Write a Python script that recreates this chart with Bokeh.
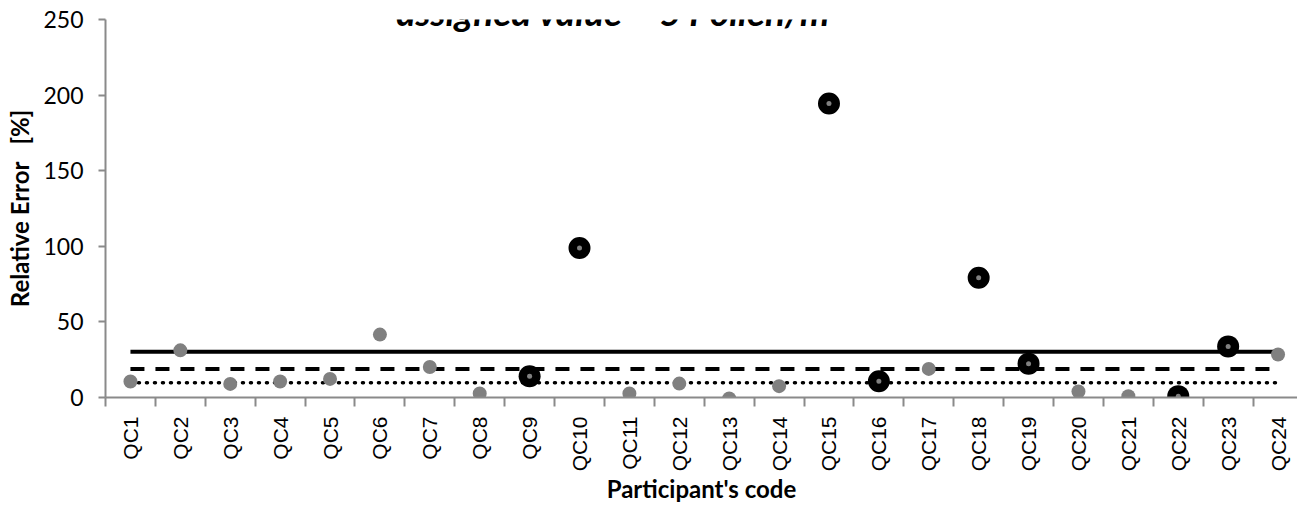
import math
from bokeh.plotting import figure
from bokeh.models import Range1d, FixedTicker, Label
from bokeh.embed import file_html
from bokeh.resources import INLINE

# ---- data ----
codes = ["QC%d" % i for i in range(1, 25)]
rel_error = [10.6, 31.2, 9.0, 10.6, 12.3, 41.6, 20.2, 2.6, 14.0, 98.9,
             2.6, 9.2, -0.7, 7.5, 194.4, 10.8, 18.9, 79.2, 22.4, 4.0,
             0.9, 0.9, 33.8, 28.4]
flagged = ["QC9", "QC10", "QC15", "QC16", "QC18", "QC19", "QC22", "QC23"]
limit_solid = 30.3
limit_dashed = 18.9
limit_dotted = 9.7
y_ticks = [0, 50, 100, 150, 200, 250]
title_text = "assigned value = 5 Pollen/m\u00b3"

xs = list(range(1, len(codes) + 1))
gx = [x for x, c in zip(xs, codes) if c not in flagged]
gy = [v for v, c in zip(rel_error, codes) if c not in flagged]
bx = [x for x, c in zip(xs, codes) if c in flagged]
by = [v for v, c in zip(rel_error, codes) if c in flagged]

GRAY = "#808080"
AXIS = "#8a8a8a"

p = figure(width=1297, height=506, output_backend="svg", toolbar_location=None,
           x_range=Range1d(0.5, 24.39), y_range=Range1d(0, 250),
           min_border_left=105, min_border_right=0, min_border_top=19,
           min_border_bottom=108, background_fill_color="white",
           border_fill_color="white")
p.xgrid.visible = False
p.ygrid.visible = False
p.outline_line_color = None

# threshold lines
p.line([xs[0], xs[-1]], [limit_solid, limit_solid], line_color="black", line_width=4)
p.line([xs[0], xs[-1]], [limit_dashed, limit_dashed], line_color="black", line_width=4,
       line_dash="14 11")
p.line([xs[0], xs[-1]], [limit_dotted, limit_dotted], line_color="black", line_width=3.5,
       line_dash="1 7", line_cap="round")

# points
p.scatter(gx, gy, size=14, fill_color=GRAY, line_color=None)
p.scatter(bx, by, size=22, fill_color="black", line_color=None)
p.scatter(bx, by, size=5, fill_color=GRAY, line_color=None)

# x axis
xa = p.xaxis[0]
xa.ticker = FixedTicker(ticks=xs, minor_ticks=[x - 0.5 for x in xs] + [xs[-1] + 0.5])
xa.major_label_overrides = {x: c for x, c in zip(xs, codes)}
xa.major_tick_out = 0
xa.major_tick_in = 0
xa.minor_tick_out = 9
xa.minor_tick_in = 0
xa.minor_tick_line_color = AXIS
xa.minor_tick_line_width = 2
xa.axis_line_color = AXIS
xa.axis_line_width = 2
xa.major_label_orientation = math.pi / 2
xa.major_label_text_font = "Liberation Sans"
xa.major_label_text_font_size = "21px"
xa.major_label_text_color = "black"
xa.major_label_standoff = 10
xa.axis_label = "Participant's code"
xa.axis_label_text_font = "Lato"
xa.axis_label_text_font_style = "bold"
xa.axis_label_text_font_size = "24px"
xa.axis_label_text_color = "black"
xa.axis_label_standoff = 0

# y axis
ya = p.yaxis[0]
ya.ticker = FixedTicker(ticks=y_ticks)
ya.major_tick_out = 7
ya.major_tick_in = 0
ya.minor_tick_out = 0
ya.minor_tick_in = 0
ya.major_tick_line_color = AXIS
ya.major_tick_line_width = 2
ya.axis_line_color = AXIS
ya.axis_line_width = 2
ya.major_label_text_font = "Lato"
ya.major_label_text_font_size = "23px"
ya.major_label_text_color = "black"
ya.major_label_standoff = 15
ya.axis_label = "Relative Error\u00a0\u00a0\u00a0[%]"
ya.axis_label_text_font = "Lato"
ya.axis_label_text_font_style = "bold"
ya.axis_label_text_font_size = "24px"
ya.axis_label_text_color = "black"
ya.axis_label_standoff = 6

# partially visible title (cut at top of the image)
p.add_layout(Label(x=10.8, y=255.0, text=title_text, text_align="center",
                   text_baseline="alphabetic", text_font="Lato",
                   text_font_style="bold italic", text_font_size="37px",
                   text_color="black"))

open("out.html", "w").write(file_html(p, INLINE))
